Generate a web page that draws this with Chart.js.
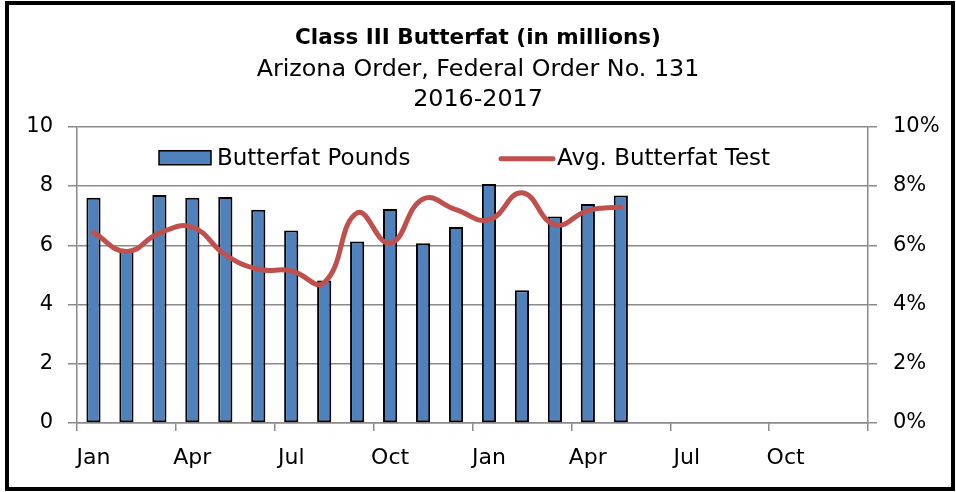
<!DOCTYPE html>
<html>
<head>
<meta charset="utf-8">
<title>Class III Butterfat</title>
<script src="https://cdn.jsdelivr.net/npm/chart.js@4.4.1/dist/chart.umd.min.js"></script>
<style>
    html, body { margin: 0; padding: 0; background: #fff; }
    #wrap { position: relative; width: 956px; height: 492px; }
</style>
</head>
<body>
<div id="wrap"><canvas id="chart" width="956" height="492"></canvas></div>
<script>
// Class III butterfat, Arizona Order (FO 131), Jan 2016 - Dec 2017.
// Barras = libras de gordura (milhões), linha = teste médio de gordura (%).

const months = ['Jan', 'Feb', 'Mar', 'Apr', 'May', 'Jun', 'Jul', 'Aug', 'Sep', 'Oct', 'Nov', 'Dec',
    'Jan', 'Feb', 'Mar', 'Apr', 'May', 'Jun', 'Jul', 'Aug', 'Sep', 'Oct', 'Nov', 'Dec'];
const butterfatPounds = [7.60, 5.80, 7.70, 7.60, 7.63, 7.20, 6.50, 4.81, 6.13, 7.22, 6.07, 6.62,
    8.07, 4.48, 6.97, 7.39, 7.68];
const avgButterfatTest = [6.43, 5.79, 6.41, 6.61, 5.68, 5.19, 5.14, 4.74, 7.09, 6.07, 7.56, 7.20,
    6.86, 7.77, 6.69, 7.17, 7.29];
const leftTicks = [0, 2, 4, 6, 8, 10];
const rightTicks = [0, 2, 4, 6, 8, 10];

const GRID = '#8a8a8a';
const BAR = '#4F81BD';
const LINE = '#C0504D';

Chart.defaults.font.family = "'DejaVu Sans', sans-serif";
Chart.defaults.color = '#000';

// fundo branco + moldura preta em volta de tudo
const frame = {
    id: 'frame',
    beforeDraw(chart) {
        const { ctx, width, height } = chart;
        ctx.save();
        ctx.fillStyle = '#fff';
        ctx.fillRect(0, 0, width, height);
        ctx.restore();
    },
    afterDraw(chart) {
        const { ctx, width, height } = chart;
        ctx.save();
        ctx.strokeStyle = '#000';
        ctx.lineWidth = 4;
        ctx.strokeRect(7, 3, width - 10, height - 6);
        ctx.restore();
    },
};

// legenda dentro da área do gráfico, como no original do Excel
const insideLegend = {
    id: 'insideLegend',
    afterDatasetsDraw(chart) {
        const { ctx, chartArea } = chart;
        const bar = chart.data.datasets[1];
        const line = chart.data.datasets[0];
        const y = chartArea.top + 31;
        ctx.save();
        ctx.font = "23px 'DejaVu Sans', sans-serif";
        ctx.textBaseline = 'middle';

        const bx = chartArea.left + 82;
        ctx.fillStyle = bar.backgroundColor;
        ctx.fillRect(bx, y - 7, 52, 14);
        ctx.strokeStyle = '#000';
        ctx.lineWidth = 1.5;
        ctx.strokeRect(bx, y - 7, 52, 14);
        ctx.fillStyle = '#000';
        ctx.fillText(bar.label, bx + 58, y + 1);

        const lx = chartArea.left + 424;
        ctx.strokeStyle = line.borderColor;
        ctx.lineWidth = 5;
        ctx.lineCap = 'round';
        ctx.beginPath();
        ctx.moveTo(lx, y + 1);
        ctx.lineTo(lx + 52, y + 1);
        ctx.stroke();
        ctx.fillText(line.label, lx + 56, y + 1);
        ctx.restore();
    },
};

new Chart(document.getElementById('chart'), {
    type: 'bar',
    data: {
        labels: months,
        datasets: [
            {
                type: 'line',
                label: 'Avg. Butterfat Test',
                data: avgButterfatTest,
                yAxisID: 'y1',
                borderColor: LINE,
                borderWidth: 5,
                borderCapStyle: 'round',
                tension: 0.45,
                pointRadius: 0,
                fill: false,
                order: 0,
            },
            {
                label: 'Butterfat Pounds',
                data: butterfatPounds,
                yAxisID: 'y',
                backgroundColor: BAR,
                borderColor: '#000',
                borderWidth: 2,
                borderSkipped: false,
                barPercentage: 0.43,
                categoryPercentage: 1,
                order: 1,
            },
        ],
    },
    options: {
        responsive: false,
        animation: false,
        layout: { padding: 0 },
        plugins: {
            legend: { display: false },
            tooltip: { enabled: false },
            title: {
                display: true,
                text: 'Class III Butterfat (in millions)',
                color: '#000',
                font: { size: 21.5, weight: 'bold', lineHeight: 1.25 },
                padding: { top: 25, bottom: 0 },
            },
            subtitle: {
                display: true,
                text: ['Arizona Order, Federal Order No. 131', '2016-2017'],
                color: '#000',
                font: { size: 23.8, lineHeight: 1.3 },
                padding: { top: 2, bottom: 11 },
            },
        },
        scales: {
            x: {
                offset: true,
                afterFit: (s) => { s.height = 69; },
                grid: {
                    offset: true,
                    drawOnChartArea: false,
                    drawTicks: true,
                    tickLength: 8,
                    lineWidth: 1.5,
                    color: (c) => (c.index === undefined || c.index % 3 === 0 ? GRID : 'rgba(0,0,0,0)'),
                },
                border: { display: true, color: GRID, width: 1.5 },
                ticks: {
                    autoSkip: false,
                    maxRotation: 0,
                    padding: 14,
                    font: { size: 22 },
                    callback: (v, i) => (i % 3 === 0 ? months[i] : ''),
                },
            },
            y: {
                position: 'left',
                min: leftTicks[0],
                max: leftTicks[leftTicks.length - 1],
                afterFit: (s) => { s.width = 77; },
                afterBuildTicks: (s) => { s.ticks = leftTicks.map((v) => ({ value: v })); },
                grid: { color: GRID, lineWidth: 1.5, tickLength: 9 },
                border: { display: true, color: GRID, width: 1.5 },
                ticks: { padding: 15, font: { size: 21 } },
            },
            y1: {
                position: 'right',
                min: rightTicks[0],
                max: rightTicks[rightTicks.length - 1],
                afterFit: (s) => { s.width = 88; },
                afterBuildTicks: (s) => { s.ticks = rightTicks.map((v) => ({ value: v })); },
                grid: { drawOnChartArea: false, color: GRID, lineWidth: 1.5, tickLength: 9 },
                border: { display: true, color: GRID, width: 1.5 },
                ticks: { padding: 16, font: { size: 21 }, callback: (v) => v + '%' },
            },
        },
    },
    plugins: [frame, insideLegend],
});
</script>
</body>
</html>
